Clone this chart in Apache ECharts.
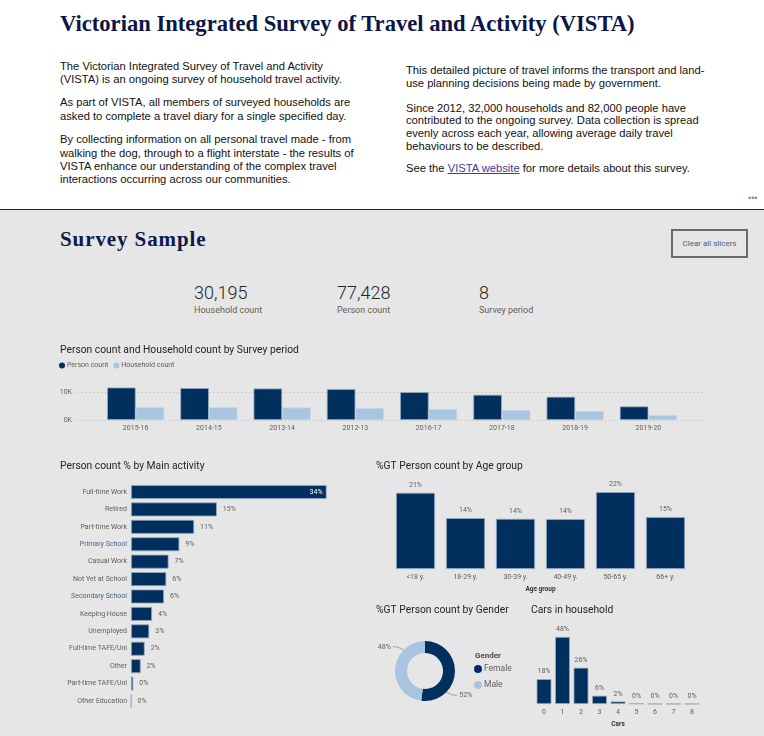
<!DOCTYPE html>
<html>
<head>
<meta charset="utf-8">
<script src="https://cdn.jsdelivr.net/npm/echarts@6/dist/echarts.min.js"></script>
<style>
  html,body{margin:0;padding:0;}
  body{width:764px;height:736px;position:relative;overflow:hidden;background:#e6e6e6;font-family:"Liberation Sans",Arial,sans-serif;}
  #header{position:absolute;left:0;top:0;width:764px;height:209px;background:#fff;border-bottom:1px solid #222;}
  .abs{position:absolute;white-space:nowrap;}
  #mainTitle{left:60px;top:11px;font-family:"Liberation Serif",serif;font-weight:bold;font-size:22.6px;color:#0c1547;}
  .para{font-size:11.2px;line-height:13.3px;color:#111;}
  .para p{margin:0 0 10.4px 0;}
  a{color:#3b3ba0;}
  #dots{left:748px;top:193px;font-size:9px;color:#888;}
  #sample{left:60px;top:227px;font-family:"Liberation Serif",serif;font-weight:bold;font-size:21px;letter-spacing:0.9px;color:#0e1a4c;}
  #btn{left:671px;top:229px;width:73px;height:25px;border:2px solid #6b6b6b;font-family:Roboto,sans-serif;font-size:8px;color:#4f5d70;text-align:center;line-height:25px;}
  .kv{font-family:Roboto,sans-serif;font-weight:300;font-size:18px;color:#252423;}
  .kl{font-family:Roboto,sans-serif;font-size:9px;color:#605e5c;}
  #chart{position:absolute;left:0;top:0;width:764px;height:736px;}
</style>
</head>
<body>
<div id="header">
  <div id="mainTitle" class="abs">Victorian Integrated Survey of Travel and Activity (VISTA)</div>
  <div class="abs para" style="left:60px;top:59.5px;">
    <p>The Victorian Integrated Survey of Travel and Activity<br>(VISTA) is an ongoing survey of household travel activity.</p>
    <p>As part of VISTA, all members of surveyed households are<br>asked to complete a travel diary for a single specified day.</p>
    <p>By collecting information on all personal travel made - from<br>walking the dog, through to a flight interstate - the results of<br>VISTA enhance our understanding of the complex travel<br>interactions occurring across our communities.</p>
  </div>
  <div class="abs para" style="left:406px;top:63.5px;">
    <p style="margin-bottom:11.5px">This detailed picture of travel informs the transport and land-<br>use planning decisions being made by government.</p>
    <p style="margin-bottom:9.5px;line-height:12.8px">Since 2012, 32,000 households and 82,000 people have<br>contributed to the ongoing survey. Data collection is spread<br>evenly across each year, allowing average daily travel<br>behaviours to be described.</p>
    <p>See the <a href="#">VISTA website</a> for more details about this survey.</p>
  </div>
  <div id="dots" class="abs">•••</div>
</div>
<div id="sample" class="abs">Survey Sample</div>
<div id="btn" class="abs">Clear all slicers</div>
<div class="abs kv" style="left:194px;top:282px;">30,195</div>
<div class="abs kl" style="left:194px;top:305px;">Household count</div>
<div class="abs kv" style="left:337px;top:282px;">77,428</div>
<div class="abs kl" style="left:337px;top:305px;">Person count</div>
<div class="abs kv" style="left:479px;top:282px;">8</div>
<div class="abs kl" style="left:479px;top:305px;">Survey period</div>
<div id="chart"></div>
<script>
// ---------- data ----------
const periods = ['2015-16','2014-15','2013-14','2012-13','2016-17','2017-18','2018-19','2019-20'];
const personCount = [11600,11400,11250,11050,9950,9000,8300,4850];
const householdCount = [4550,4550,4450,4250,3900,3550,3200,1750];

const activities = ['Full-time Work','Retired','Part-time Work','Primary School','Casual Work','Not Yet at School','Secondary School','Keeping House','Unemployed','Full-time TAFE/Uni','Other','Part-time TAFE/Uni','Other Education'];
const activityPct = [34.4,15.1,11.1,8.5,6.6,6.2,5.8,3.7,3.2,2.4,1.7,0.4,0.05];

const ageGroups = ['<18 y.','18-29 y.','30-39 y.','40-49 y.','50-65 y.','66+ y.'];
const agePct = [21.4,14.3,14.1,14.0,21.6,14.6];

const genders = ['Female','Male'];
const genderPct = [52,48];

const carCounts = ['0','1','2','3','4','5','6','7','8'];
const carsPct = [17.8,47.9,25.9,5.9,1.8,0.4,0.1,0.1,0.1];

// ---------- styles ----------
const DARK = '#01305f';
const LIGHT = '#a7c5e0';
const GRAY = '#605e5c';
const FONT = 'Roboto, sans-serif';
const pct = p => Math.round(p.value) + '%';
const barBorder = {borderColor:'#93a9c2', borderWidth:0.8};
const titleStyle = {fontSize:10.3, color:'#252423', fontFamily:FONT, fontWeight:'normal'};
const small = {fontSize:7, color:GRAY, fontFamily:FONT};

// donut geometry
const PIE_C = [425, 671];
const PIE_R = [18, 30];
// label anchor angles (deg clockwise from 12 o'clock)
const pieLabelAngle = [135, 315];

function pieLabel(p){
  const i = p.dataIndex;
  const a = pieLabelAngle[i] * Math.PI / 180;
  const sx = PIE_C[0] + PIE_R[1] * Math.sin(a), sy = PIE_C[1] - PIE_R[1] * Math.cos(a);
  const dir = Math.sin(a) >= 0 ? 1 : -1;
  const mx = sx + dir * 7, my = sy + 3 * (-Math.cos(a) >= 0 ? 1 : -1);
  const ex = mx + dir * 4;
  return {
    x: ex + dir * 2, y: my, align: dir > 0 ? 'left' : 'right', verticalAlign:'middle',
    labelLinePoints: [[sx, sy], [mx, my], [ex, my]]
  };
}

const chart = echarts.init(document.getElementById('chart'), null, {renderer:'canvas'});
const option = {
  backgroundColor:'transparent',
  animation:false,
  title:[
    {text:'Person count and Household count by Survey period', left:60, top:345, padding:0, textStyle:titleStyle},
    {text:'Person count % by Main activity', left:60, top:461, padding:0, textStyle:titleStyle},
    {text:'%GT Person count by Age group', left:376, top:461, padding:0, textStyle:titleStyle},
    {text:'%GT Person count by Gender', left:376, top:605, padding:0, textStyle:titleStyle},
    {text:'Cars in household', left:531, top:605, padding:0, textStyle:titleStyle}
  ],
  legend:[
    {data:['Person count','Household count'], left:59, top:362, padding:0, icon:'circle', itemWidth:6, itemHeight:6, itemGap:5,
     itemStyle:{borderWidth:0},
     textStyle:{fontSize:7, color:GRAY, fontFamily:FONT, padding:[0,0,0,-3]}},
    {data:genders, left:474, top:664.5, padding:0, orient:'vertical', icon:'circle', itemWidth:8, itemHeight:8, itemGap:7,
     itemStyle:{borderWidth:0},
     textStyle:{fontSize:8.5, color:GRAY, fontFamily:FONT, padding:[0,0,0,-3]}}
  ],
  graphic:[
    {type:'text', left:475, top:652, style:{text:'Gender', fontSize:8, fontWeight:'bold', fill:'#4a4a4a', fontFamily:FONT}}
  ],
  grid:[
    {left:99, width:586, top:386.4, height:33.6},
    {left:77, width:628, top:386.4, height:33.6},
    {left:131, width:199, top:483.3, height:226.4},
    {left:390.5, width:300, top:480, height:89},
    {left:534.75, width:166.5, top:634, height:70}
  ],
  xAxis:[
    {gridIndex:0, type:'category', data:periods, axisLine:{show:false}, axisTick:{show:false}, axisLabel:Object.assign({margin:5}, small)},
    {gridIndex:1, type:'value', min:0, max:1, show:false},
    {gridIndex:2, type:'value', min:0, max:35, show:false},
    {gridIndex:3, type:'category', data:ageGroups, axisLine:{show:false}, axisTick:{show:false}, axisLabel:Object.assign({margin:5}, small),
     name:'Age group', nameLocation:'middle', nameGap:17, nameTextStyle:{fontSize:6.5, fontWeight:'bold', color:'#333', fontFamily:FONT}},
    {gridIndex:4, type:'category', data:carCounts, axisLine:{show:false}, axisTick:{show:false}, axisLabel:Object.assign({margin:5}, small),
     name:'Cars', nameLocation:'middle', nameGap:17, nameTextStyle:{fontSize:6.5, fontWeight:'bold', color:'#333', fontFamily:FONT}}
  ],
  yAxis:[
    {gridIndex:0, type:'value', min:0, max:12000, show:false},
    {gridIndex:1, type:'value', min:0, max:12000, interval:10000, axisLine:{show:false}, axisTick:{show:false},
     axisLabel:Object.assign({margin:5, showMaxLabel:false, formatter:v => (v/1000) + 'K'}, small),
     splitLine:{show:true, showMaxLine:false, lineStyle:{type:[1,3], color:'#b8b8b8', width:1}}},
    {gridIndex:2, type:'category', data:activities, inverse:true, axisLine:{show:false}, axisTick:{show:false},
     axisLabel:Object.assign({}, small, {margin:4, color:(v) => (v==='Primary School'||v==='Secondary School') ? '#4a6688' : GRAY})},
    {gridIndex:3, type:'value', min:0, max:25, show:false},
    {gridIndex:4, type:'value', min:0, max:50, show:false}
  ],
  series:[
    {name:'Person count', type:'bar', xAxisIndex:0, yAxisIndex:0, data:personCount, barGap:'0%', barCategoryGap:'22%',
     itemStyle:Object.assign({color:DARK}, barBorder)},
    {name:'Household count', type:'bar', xAxisIndex:0, yAxisIndex:0, data:householdCount,
     itemStyle:Object.assign({color:LIGHT}, {borderColor:'#c3d6e8', borderWidth:0.8})},
    {name:'Main activity', type:'bar', xAxisIndex:2, yAxisIndex:2, barCategoryGap:'20%',
     data:activityPct.map((v,i) => i===0 ? {value:v, label:{position:'insideRight', color:'#fff', distance:4}} : v),
     itemStyle:Object.assign({color:DARK}, barBorder),
     label:Object.assign({show:true, position:'right', distance:6, formatter:pct}, small)},
    {name:'Age group', type:'bar', xAxisIndex:3, yAxisIndex:3, data:agePct, barCategoryGap:'22%',
     itemStyle:Object.assign({color:DARK}, barBorder),
     label:Object.assign({show:true, position:'top', distance:4, formatter:pct}, small)},
    {name:'Cars', type:'bar', xAxisIndex:4, yAxisIndex:4, data:carsPct, barCategoryGap:'20%',
     itemStyle:Object.assign({color:DARK}, barBorder),
     label:Object.assign({show:true, position:'top', distance:4, formatter:pct}, small)},
    {name:'Gender', type:'pie', center:PIE_C, radius:PIE_R, startAngle:90, clockwise:true,
     data:genders.map((g,i) => ({name:g, value:genderPct[i], itemStyle:{color: i===0 ? DARK : LIGHT}})),
     label:Object.assign({show:true, formatter:pct}, small),
     labelLine:{show:true, length:6, length2:6, lineStyle:{color:'#a0a0a0', width:1}},
     labelLayout:pieLabel,
     emphasis:{disabled:true}}
  ]
};
chart.setOption(option);
</script>
</body>
</html>
